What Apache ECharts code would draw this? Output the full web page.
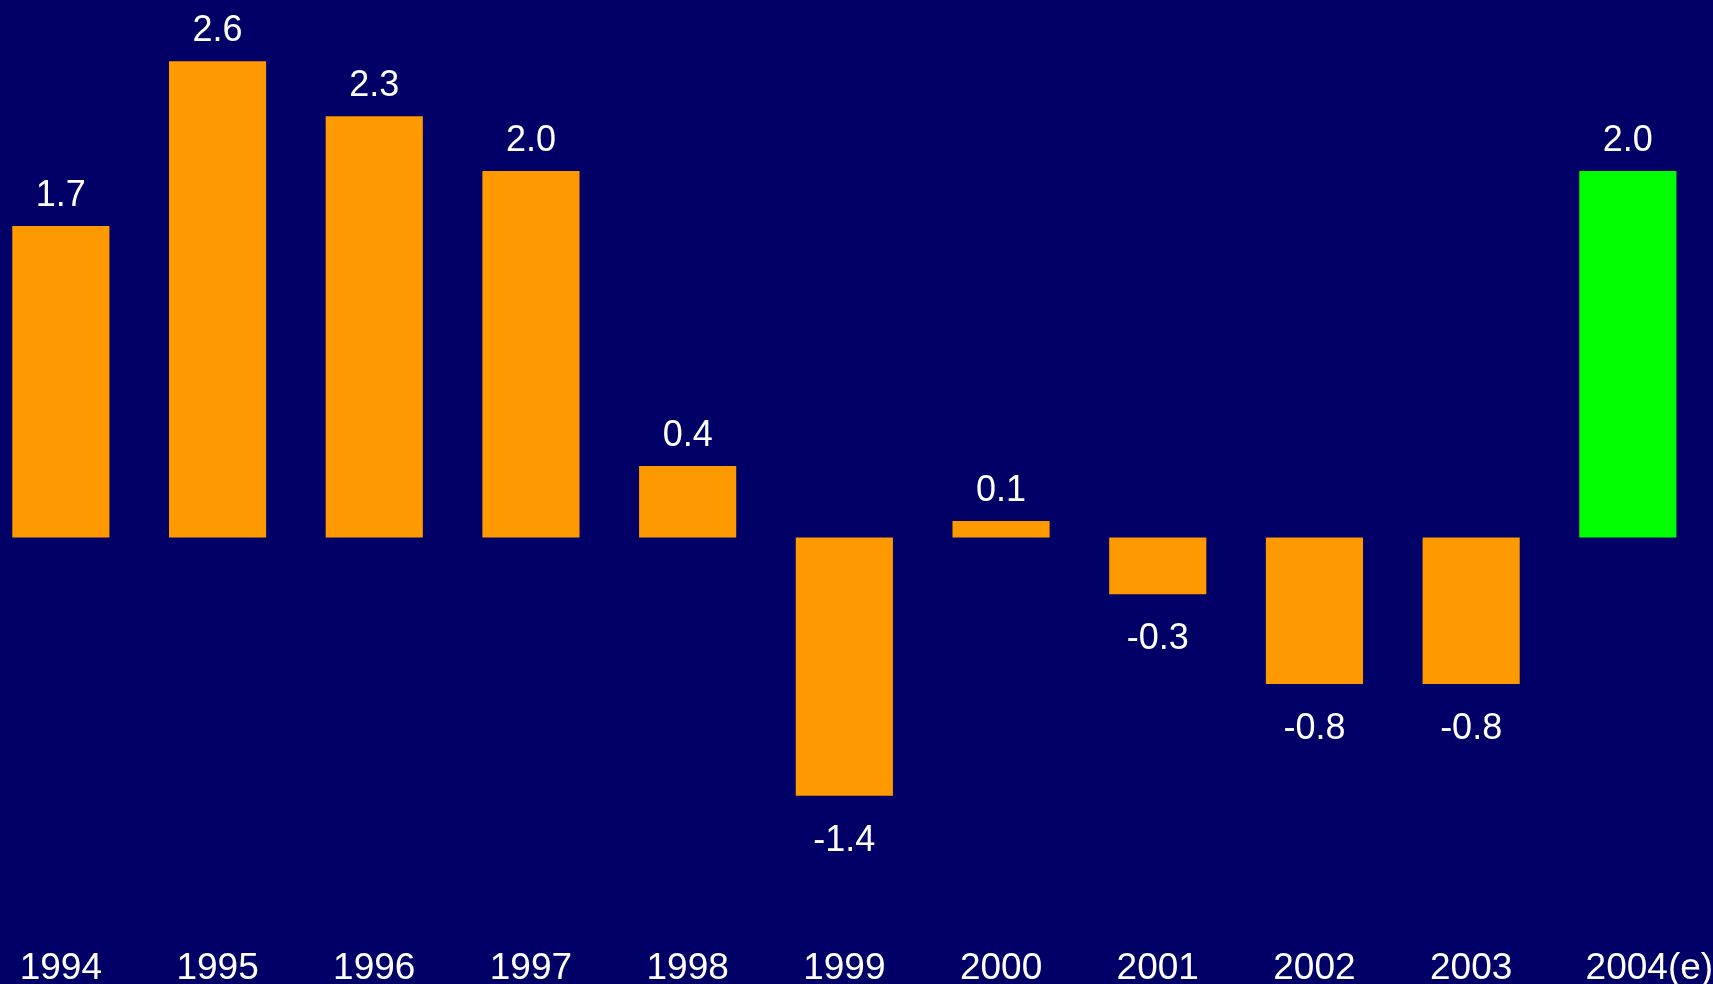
<!DOCTYPE html>
<html>
<head>
<meta charset="utf-8">
<script src="https://cdn.jsdelivr.net/npm/echarts@6/dist/echarts.min.js"></script>
<style>
html,body{margin:0;padding:0;background:#000066;}
#c{width:1713px;height:984px;}
</style>
</head>
<body>
<div id="c"></div>
<script>
var categories = ['1994','1995','1996','1997','1998','1999','2000','2001','2002','2003','2004'];
var values = [1.7, 2.6, 2.3, 2.0, 0.39, -1.41, 0.09, -0.31, -0.8, -0.8, 2.0];
var estimateIndex = 10;

var chart = echarts.init(document.getElementById('c'), null, {renderer:'canvas'});
var data = values.map(function(v, i){
  return {
    value: v,
    itemStyle: {color: i === estimateIndex ? '#00FF00' : '#FF9900'},
    label: {position: v < 0 ? 'bottom' : 'top', distance: v < 0 ? 27 : 12}
  };
});
chart.setOption({
  backgroundColor: '#000066',
  animation: false,
  grid: {left: -17.5, right: 6.8, top: 61.2, bottom: 80.1, outerBoundsMode: 'none', containLabel: false},
  xAxis: {
    type: 'category',
    data: categories,
    axisLine: {show: false, onZero: false},
    axisTick: {show: false},
    splitLine: {show: false},
    axisLabel: {
      interval: 0,
      margin: 46,
      color: '#FFFFFF',
      fontFamily: 'Liberation Sans',
      fontSize: 37,
      formatter: function(v, i){
        return i === estimateIndex ? '{p|' + v + '}{e|(e)}' : v;
      },
      rich: {
        p: {color:'#FFFFFF', fontFamily:'Liberation Sans', fontSize:37, padding:[0,0,0,43]},
        e: {color:'#FFFFFF', fontFamily:'Liberation Sans', fontSize:37}
      }
    }
  },
  yAxis: {
    type: 'value',
    min: -2,
    max: 2.6,
    show: false,
    splitLine: {show: false}
  },
  series: [{
    type: 'bar',
    data: data,
    barWidth: '62%',
    label: {
      show: true,
      color: '#FFFFFF',
      fontFamily: 'Liberation Sans',
      fontSize: 36,
      formatter: function(p){ return p.value.toFixed(1); }
    }
  }]
});
</script>
</body>
</html>
